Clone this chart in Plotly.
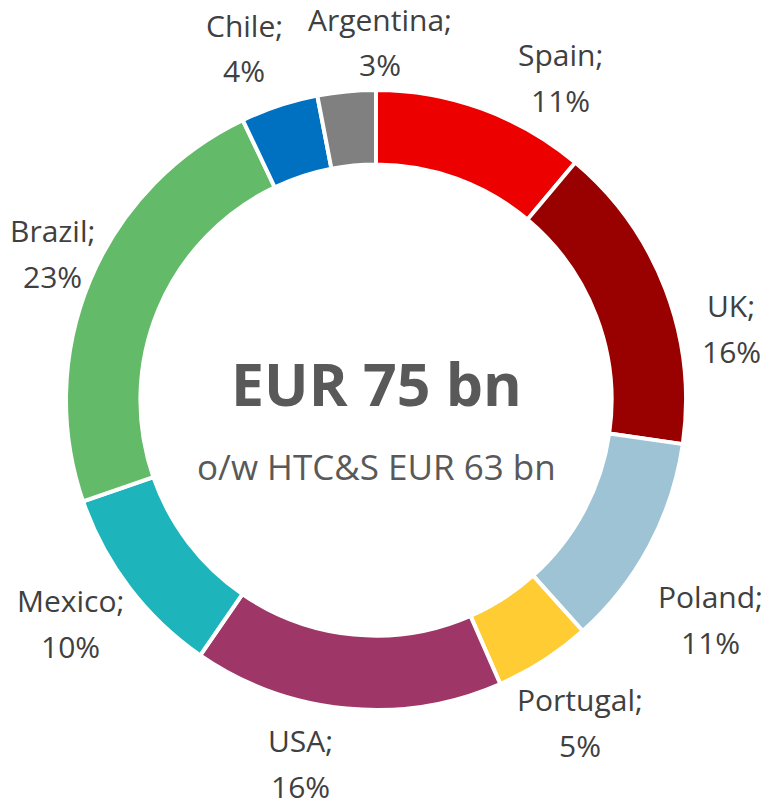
import plotly.graph_objects as go

# Loan book breakdown by country (share of total, %)
countries = ["Spain", "UK", "Poland", "Portugal", "USA", "Mexico", "Brazil", "Chile", "Argentina"]
shares = [11, 16, 11, 5, 16, 10, 23, 4, 3]
colors = ["#EC0000", "#990000", "#9DC3D4", "#FFCC33", "#9E3667",
          "#1DB4BC", "#63BA68", "#0070C0", "#808080"]

title_text = "EUR 75 bn"
subtitle_text = "o/w HTC&S EUR 63 bn"

W, H = 769, 808
cx, cy, R = 376, 400, 310  # donut centre and outer radius in pixels
FONT = "Open Sans"
LABEL_COLOR = "#404040"
CENTER_COLOR = "#595959"

# Where each outside label block sits (pixel centre of the two-line block)
label_pos = {
    "Spain": (560, 77), "UK": (731, 328), "Poland": (710, 619),
    "Portugal": (580, 722), "USA": (300, 763), "Mexico": (70, 623),
    "Brazil": (53, 253), "Chile": (244, 48), "Argentina": (380, 42),
}
line_gap = 23


def px_to_paper(x, y):
    return x / W, 1 - y / H


fig = go.Figure(go.Pie(
    labels=countries,
    values=shares,
    sort=False,
    direction="clockwise",
    rotation=0,
    hole=0.76,
    marker=dict(colors=colors, line=dict(color="white", width=4)),
    textinfo="none",
    hoverinfo="label+percent",
    domain=dict(x=[(cx - R) / W, (cx + R) / W],
                y=[(H - cy - R) / H, (H - cy + R) / H]),
    showlegend=False,
))

for name, v in zip(countries, shares):
    lx, ly = label_pos[name]
    for txt, dy in ((f"{name};", -line_gap), (f"{v}%", line_gap)):
        ax, ay = px_to_paper(lx, ly + dy)
        fig.add_annotation(text=txt, x=ax, y=ay,
                           xref="paper", yref="paper", showarrow=False,
                           xanchor="center", yanchor="middle", borderpad=0,
                           font=dict(family=FONT, size=30, color=LABEL_COLOR))

tx, ty = px_to_paper(cx, 383)
fig.add_annotation(text=f"<b>{title_text}</b>", x=tx, y=ty,
                   xref="paper", yref="paper", showarrow=False,
                   font=dict(family=FONT, size=59, color=CENTER_COLOR))
sx, sy = px_to_paper(cx, 467)
fig.add_annotation(text=subtitle_text, x=sx, y=sy,
                   xref="paper", yref="paper", showarrow=False,
                   font=dict(family=FONT, size=35, color=CENTER_COLOR))

fig.update_layout(width=W, height=H, margin=dict(l=0, r=0, t=0, b=0),
                  paper_bgcolor="white", plot_bgcolor="white")

fig.write_html("out.html")
